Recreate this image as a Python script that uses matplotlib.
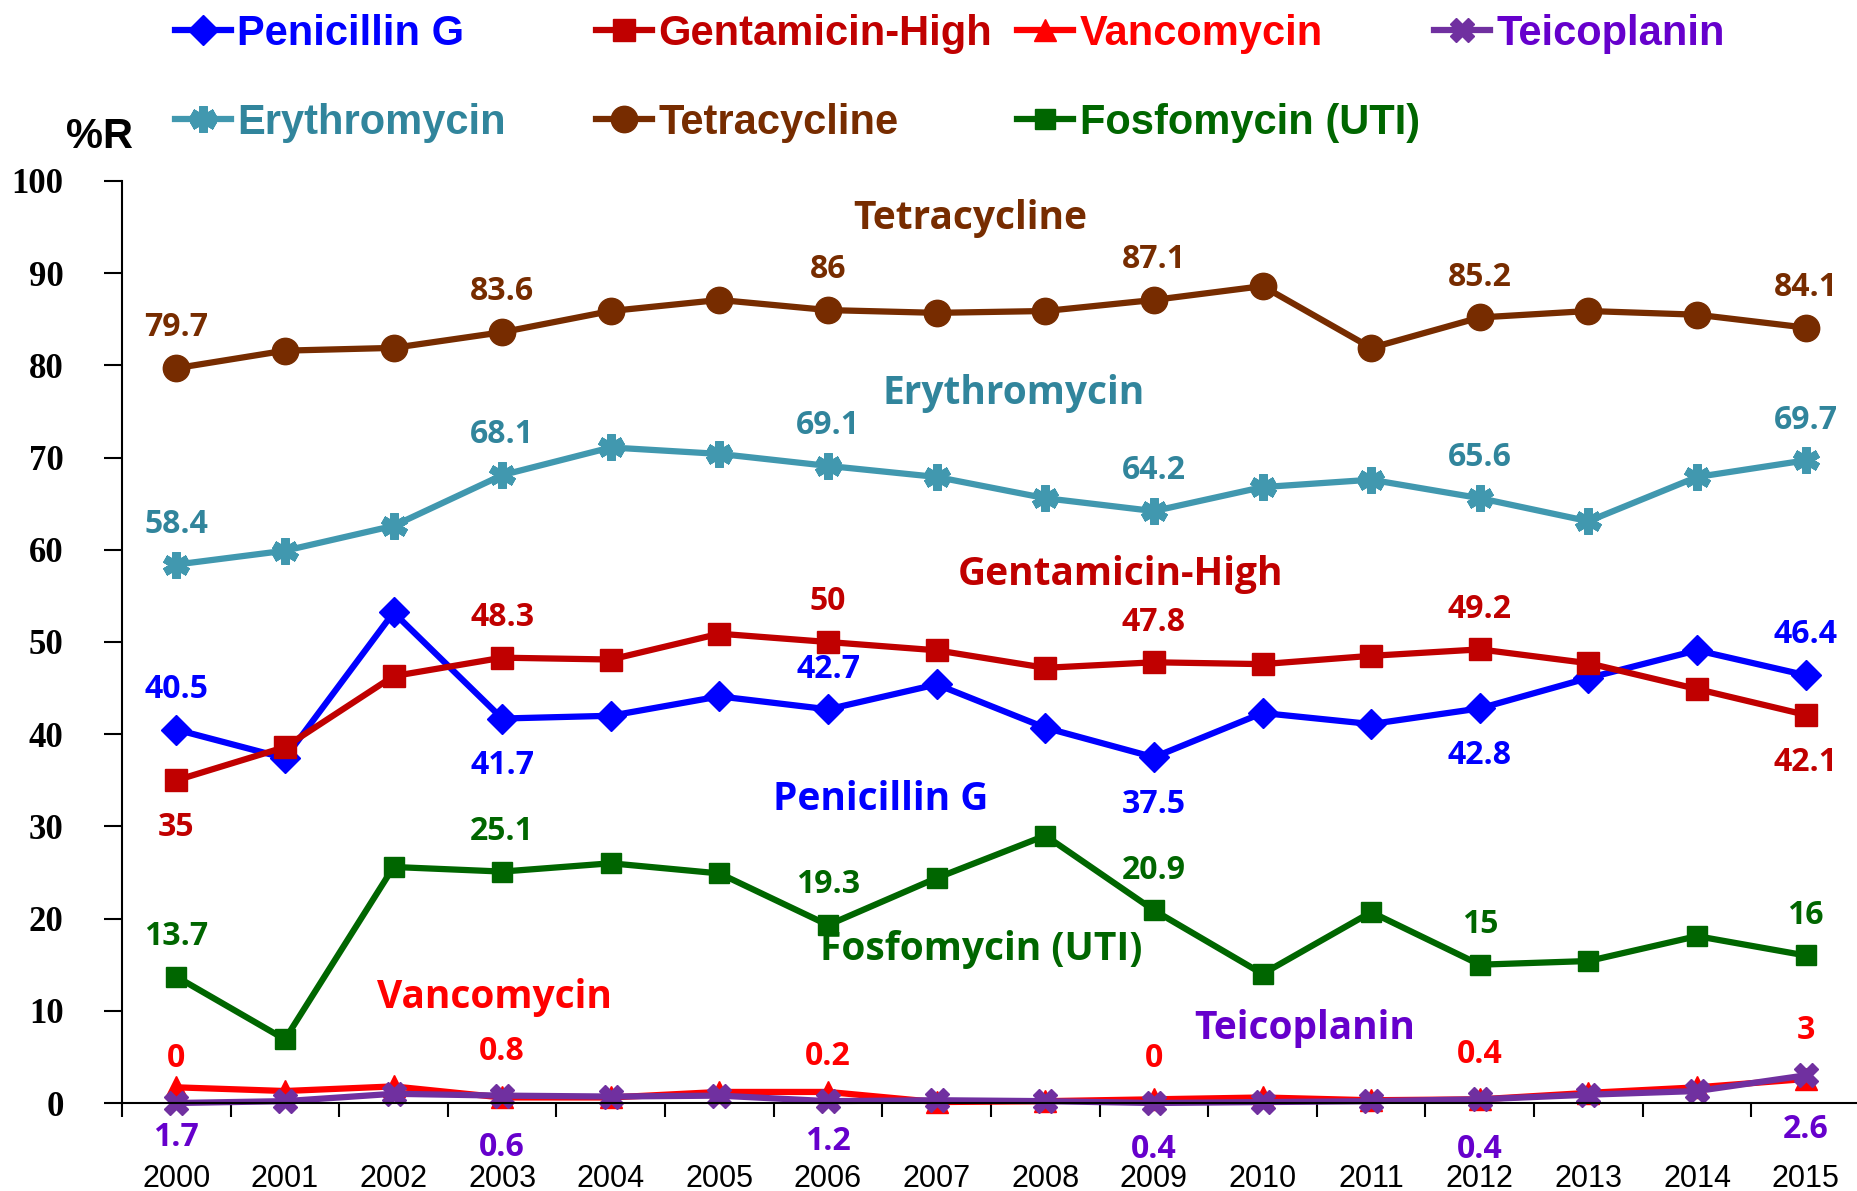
import matplotlib
matplotlib.use('Agg')
import matplotlib.pyplot as plt
import numpy as np

# data (% resistant per year)
years = [str(y) for y in range(2000, 2016)]
penicillin = [40.5, 37.4, 53.2, 41.7, 42.0, 44.1, 42.7, 45.4, 40.7, 37.5, 42.3, 41.1, 42.8, 46.1, 49.1, 46.4]
gentamicin = [35, 38.6, 46.3, 48.3, 48.1, 50.9, 50, 49.1, 47.2, 47.8, 47.6, 48.5, 49.2, 47.7, 44.9, 42.1]
vancomycin = [1.7, 1.3, 1.8, 0.6, 0.6, 1.2, 1.2, 0.1, 0.2, 0.4, 0.6, 0.3, 0.4, 1.1, 1.7, 2.6]
teicoplanin = [0, 0.2, 1.0, 0.8, 0.7, 0.8, 0.2, 0.3, 0.2, 0, 0.1, 0.2, 0.4, 0.9, 1.3, 3]
erythromycin = [58.4, 59.9, 62.6, 68.1, 71.1, 70.4, 69.1, 67.9, 65.6, 64.2, 66.8, 67.6, 65.6, 63.1, 67.9, 69.7]
tetracycline = [79.7, 81.6, 81.9, 83.6, 85.9, 87.1, 86, 85.7, 85.9, 87.1, 88.6, 81.9, 85.2, 85.9, 85.5, 84.1]
fosfomycin = [13.7, 6.9, 25.6, 25.1, 26.0, 24.9, 19.3, 24.4, 29.0, 20.9, 14.0, 20.7, 15, 15.4, 18.1, 16]
labelled = [0, 3, 6, 9, 12, 15]

x = np.arange(len(years))

# name, values, line colour, text colour, value-label colour, marker, ms, side of labels, name position
series = [
    ('Penicillin G', penicillin, '#0000FF', '#0000FF', '#0000FF', 'D', 15, [1, -1, 1, -1, -1, 1], (6.48, 32.9)),
    ('Gentamicin-High', gentamicin, '#C00000', '#C00000', '#C00000', 's', 16, [-1, 1, 1, 1, 1, -1], (8.69, 57.3)),
    ('Vancomycin', vancomycin, '#FF0000', '#FF0000', '#6600CC', '^', 16, [-1] * 6, (2.93, 11.4)),
    ('Teicoplanin', teicoplanin, '#7030A0', '#6600CC', '#FF0000', 'X', 17, [1] * 6, (10.39, 8.1)),
    ('Erythromycin', erythromycin, '#4198AF', '#31859C', '#31859C', (6, 2, 0), 19, [1] * 6, (7.71, 76.9)),
    ('Tetracycline', tetracycline, '#772C00', '#772C00', '#772C00', 'o', 19, [1] * 6, (7.31, 95.9)),
    ('Fosfomycin (UTI)', fosfomycin, '#006600', '#006600', '#006600', 's', 14, [1] * 6, (7.41, 16.6)),
]

W, H = 1858, 1191
fig = plt.figure(figsize=(W / 100, H / 100), dpi=100)
ax = fig.add_axes([122 / W, 1 - 1103 / H, (1860 - 122) / W, (1103 - 181) / H])

lab_font = dict(family='Open Sans', weight='bold', size=23)
handles = {}
for name, vals, lc, tc, vc, mk, ms, sides, npos in series:
    mew = 6 if mk == (6, 2, 0) else 1
    ln, = ax.plot(x, vals, color=lc, lw=4.5, marker=mk, ms=ms, mec=lc, mfc=lc,
                  mew=mew, clip_on=False, solid_joinstyle='round')
    handles[name] = (ln, tc)
    small = name in ('Vancomycin', 'Teicoplanin')
    for i, s in zip(labelled, sides):
        if small:
            off = 32 if s > 0 else -36
        else:
            off = 29 if s > 0 else -34
        ax.annotate(f'{vals[i]:g}', (x[i], vals[i]), xytext=(0, off),
                    textcoords='offset points', ha='center', va='center',
                    color=vc, **lab_font)
    ax.text(npos[0], npos[1], name, ha='center', va='center', color=tc,
            family='Open Sans', weight='bold', size=28)

ax.set_xlim(-0.5, 15.5)
ax.set_ylim(0, 100)
ax.spines['top'].set_visible(False)
ax.spines['right'].set_visible(False)
for sp in ('left', 'bottom'):
    ax.spines[sp].set_linewidth(1.5)

ax.set_yticks(range(0, 101, 10))
ax.set_yticklabels([str(v) for v in range(0, 101, 10)], family='Liberation Serif',
                   weight='bold', size=25)
ax.tick_params(axis='y', length=13, width=1.5, pad=29)

ax.set_xticks(np.arange(-0.5, 16, 1))
ax.set_xticklabels([])
ax.tick_params(axis='x', which='major', length=10, width=1.5)
ax.set_xticks(x, minor=True)
ax.set_xticklabels(years, minor=True, family='Liberation Sans', size=22)
ax.tick_params(axis='x', which='minor', length=0, pad=44)

fig.text(100 / W, 1 - 137 / H, '%R', ha='center', va='center',
         family='Liberation Sans', weight='bold', size=30)

# legend: four columns, Excel-like equal spacing
columns = [['Penicillin G', 'Erythromycin'], ['Gentamicin-High', 'Tetracycline'],
           ['Vancomycin', 'Fosfomycin (UTI)'], ['Teicoplanin']]
col_x = [175, 596, 1017, 1434]
for names, cx in zip(columns, col_x):
    hs = [handles[n][0] for n in names]
    leg = fig.legend(hs, names, loc='upper left', bbox_to_anchor=(cx / W, 1 - 14 / H),
                     frameon=False, borderpad=0, borderaxespad=0, handlelength=1.35,
                     handletextpad=0.15, labelspacing=1.17, numpoints=1,
                     prop=dict(family='Liberation Sans', weight='bold', size=30))
    for t, n in zip(leg.get_texts(), names):
        t.set_color(handles[n][1])

fig.savefig('out.png', dpi=100)
